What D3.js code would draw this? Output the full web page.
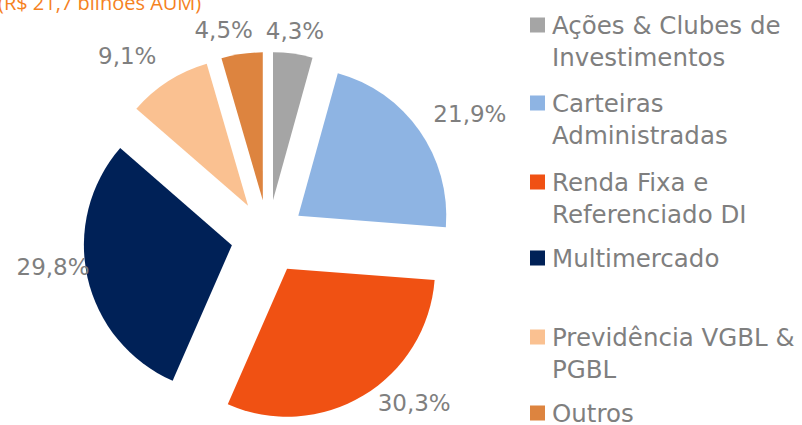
<!DOCTYPE html>
<html><head><meta charset="utf-8">
<script src="https://cdn.jsdelivr.net/npm/d3@7"></script>
<style>html,body{margin:0;padding:0;background:#fff;overflow:hidden}</style>
</head><body>
<svg id="chart" width="802" height="425"></svg>
<script>
const categories = ["Ações & Clubes de Investimentos","Carteiras Administradas","Renda Fixa e Referenciado DI","Multimercado","Previdência VGBL & PGBL","Outros"];
const legendLines = [["Ações & Clubes de","Investimentos"],["Carteiras","Administradas"],["Renda Fixa e","Referenciado DI"],["Multimercado"],["Previdência VGBL &","PGBL"],["Outros"]];
const values = [4.3, 21.9, 30.3, 29.8, 9.1, 4.5];
const valueLabels = ["4,3%","21,9%","30,3%","29,8%","9,1%","4,5%"];
const colors = ["#a5a5a5","#8eb4e3","#f05113","#002157","#fac191","#dd843f"];
const title = "(R$ 21,7 bilhões AUM)";

const svg = d3.select("#chart");
const cx = 268, cy = 237, R = 148, explode = 37;
const textColor = "#7f7f7f";

svg.append("text").attr("x", -2).attr("y", 9.5).attr("fill", "#f5821f")
  .attr("font-family", "Open Sans").attr("font-size", 20).text(title);

const pie = d3.pie().sort(null).value(d => d)(values);
const arc = d3.arc().innerRadius(0).outerRadius(R);
const g = svg.append("g").attr("transform", `translate(${cx},${cy})`);

// label nudges (layout only), in px
const nudge = [[-3,-4],[14,-6],[28,-9],[9,-15],[-21,-9],[-13,-5]];

pie.forEach((p, i) => {
  const a = (p.startAngle + p.endAngle) / 2;
  const ox = explode * Math.sin(a), oy = -explode * Math.cos(a);
  const sg = g.append("g").attr("transform", `translate(${ox},${oy})`);
  sg.append("path").attr("d", arc(p)).attr("fill", colors[i]);
  const t = sg.append("text").attr("font-family", "DejaVu Sans").attr("font-size", 23)
    .attr("fill", textColor).attr("text-anchor", "middle").attr("dominant-baseline", "central")
    .text(valueLabels[i]);
  const bb = t.node().getBBox();
  const rr = R + 8;
  const px = rr * Math.sin(a) + bb.width / 2 * Math.sin(a) + nudge[i][0];
  const py = -rr * Math.cos(a) - 11 * Math.cos(a) + nudge[i][1];
  t.attr("x", px).attr("y", py);
});

// legend
const legendY = [25, 103, 182, 258, 337, 413];
const lg = svg.append("g");
legendLines.forEach((lines, i) => {
  const y0 = legendY[i];
  lg.append("rect").attr("x", 530).attr("y", y0 - 7.5).attr("width", 15).attr("height", 15).attr("fill", colors[i]);
  lines.forEach((ln, j) => {
    lg.append("text").attr("x", 552).attr("y", y0 + j * 32).attr("dominant-baseline", "central")
      .attr("font-family", "DejaVu Sans").attr("font-size", 24.5).attr("fill", textColor).text(ln);
  });
});
</script>
</body></html>
